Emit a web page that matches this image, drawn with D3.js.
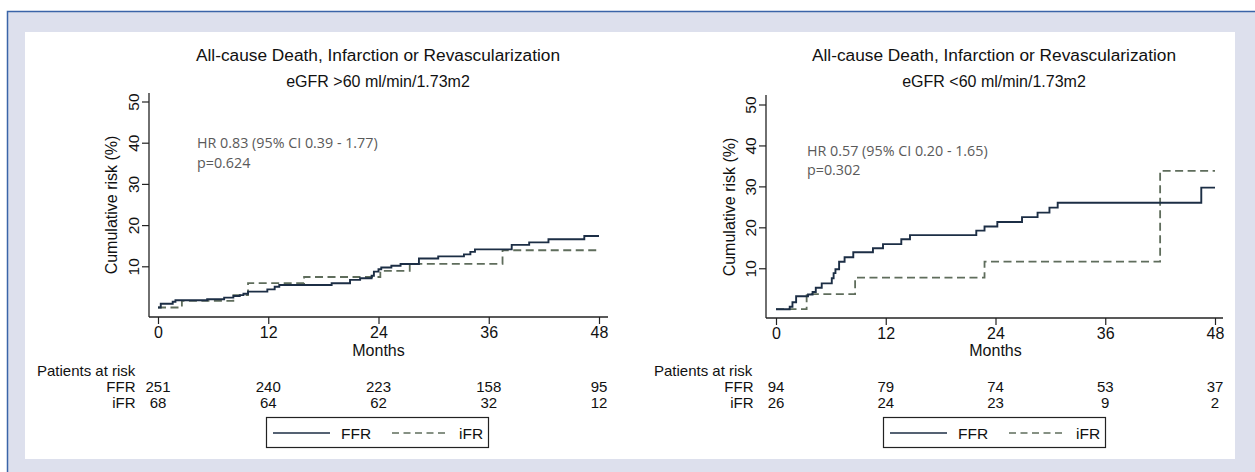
<!DOCTYPE html>
<html><head><meta charset="utf-8">
<script src="https://cdn.jsdelivr.net/npm/d3@7"></script>
<style>
html,body{margin:0;padding:0;background:#fff;}
svg{display:block;}
</style></head>
<body>
<svg id="c" width="1255" height="472"></svg>
<script>
// ---------- data ----------
const monthTicks = [0, 12, 24, 36, 48];
const riskTicks = [10, 20, 30, 40, 50];
const seriesNames = ["FFR", "iFR"];

const titles = ["All-cause Death, Infarction or Revascularization", "All-cause Death, Infarction or Revascularization"];
const subtitles = ["eGFR >60 ml/min/1.73m2", "eGFR <60 ml/min/1.73m2"];
const hrTexts = ["HR 0.83 (95% CI 0.39 - 1.77)", "HR 0.57 (95% CI 0.20 - 1.65)"];
const pTexts = ["p=0.624", "p=0.302"];

// left panel: eGFR > 60
const leftFFR = [[0,0],[0.3,0.9],[1.6,1.4],[1.9,1.75],[5.35,2.0],[7.2,2.4],[8.2,2.8],[8.9,3.0],[9.3,3.35],[9.8,3.85],[11.9,4.4],[12.7,5.05],[13.2,5.45],[18.9,5.9],[20.9,6.7],[22.0,7.1],[23.25,7.7],[23.5,8.7],[24.0,9.3],[24.3,9.7],[25.4,10.15],[26.4,10.55],[28.4,11.9],[30.5,12.4],[33.3,12.9],[34.0,13.5],[34.5,14.1],[38.5,15.2],[40.4,15.8],[42.5,16.55],[46.4,17.35],[48,17.35]];
const leftIFR = [[0,0],[2.6,1.6],[8.2,3.0],[9.8,5.9],[15.9,7.4],[24.2,8.9],[27.4,10.6],[37.5,13.9],[48,13.9]];
const leftRiskFFR = [251, 240, 223, 158, 95];
const leftRiskIFR = [68, 64, 62, 32, 12];

// right panel: eGFR < 60
const rightFFR = [[0,0],[1.5,0.6],[1.8,1.7],[2.2,3.15],[3.5,3.6],[4.0,4.2],[4.35,5.25],[5.0,6.3],[6.1,7.55],[6.3,8.8],[6.5,9.75],[6.9,11.6],[7.5,12.7],[8.45,13.9],[10.6,14.9],[11.7,15.9],[13.7,17.1],[14.65,18.1],[21.9,19.2],[22.8,20.2],[24.2,21.3],[26.9,22.5],[28.6,23.6],[29.9,24.8],[30.8,26.0],[46.5,29.7],[48,29.7]];
const rightIFR = [[0,0],[3.35,3.7],[8.65,7.7],[22.8,11.6],[42.0,33.8],[48,33.8]];
const rightRiskFFR = [94, 79, 74, 53, 37];
const rightRiskIFR = [26, 24, 23, 9, 2];

// ---------- layout ----------
const svg = d3.select("#c");
const FONT = "'Liberation Sans', Arial, Helvetica, sans-serif";
const colFFR = "#1c2e45";
const colIFR = "#5f6d5c";

svg.append("rect").attr("x", 7.5).attr("y", 11.5).attr("width", 1300).attr("height", 500)
  .attr("fill", "#dde0ed").attr("stroke", "#3a64a8").attr("stroke-width", 1.5);
svg.append("rect").attr("x", 25).attr("y", 32).attr("width", 1210).attr("height", 427).attr("fill", "#fff");

const panels = [
  { axisX: 149, axisRight: 608, axisTop: 93, axisBottom: 317, x0: 158, x48: 599, y0: 307.5, y50: 101.5,
    titleX: 378, hrX: 197, hrY: 143, pY: 163, ylabX: 111, ylabY: 205,
    rowLabX: 135.5, riskX: 37, legX: 266, ffr: leftFFR, ifr: leftIFR, rFFR: leftRiskFFR, rIFR: leftRiskIFR, idx: 0 },
  { axisX: 766, axisRight: 1223, axisTop: 95, axisBottom: 318, x0: 776, x48: 1215, y0: 309.2, y50: 104.5,
    titleX: 994, hrX: 807, hrY: 151, pY: 170, ylabX: 729, ylabY: 207,
    rowLabX: 753.5, riskX: 654, legX: 883, ffr: rightFFR, ifr: rightIFR, rFFR: rightRiskFFR, rIFR: rightRiskIFR, idx: 1 }
];

panels.forEach(p => {
  const g = svg.append("g");
  const x = d3.scaleLinear().domain([0, 48]).range([p.x0, p.x48]);
  const y = d3.scaleLinear().domain([0, 50]).range([p.y0, p.y50]);

  // titles
  g.append("text").attr("x", p.titleX).attr("y", 61).attr("text-anchor", "middle")
    .attr("font-family", FONT).attr("font-size", 17.3).attr("fill", "#111").text(titles[p.idx]);
  g.append("text").attr("x", p.titleX).attr("y", 87).attr("text-anchor", "middle")
    .attr("font-family", FONT).attr("font-size", 16).attr("fill", "#111").text(subtitles[p.idx]);

  // y axis
  const yAxis = d3.axisLeft(y).tickValues(riskTicks).tickSize(7).tickPadding(4).tickFormat(d3.format("d"));
  const ya = g.append("g").attr("transform", `translate(${p.axisX},0)`).call(yAxis);
  ya.select(".domain").remove();
  ya.selectAll(".tick line").attr("stroke", "#222").attr("stroke-width", 1.2);
  ya.selectAll(".tick text").attr("font-family", FONT).attr("font-size", 15.5).attr("fill", "#111")
    .attr("x", null).attr("dy", null)
    .attr("text-anchor", "middle")
    .attr("transform", "translate(-10,0) rotate(-90)");
  g.append("line").attr("x1", p.axisX).attr("x2", p.axisX).attr("y1", p.axisTop).attr("y2", p.axisBottom)
    .attr("stroke", "#222").attr("stroke-width", 1.3);

  // x axis
  const xAxis = d3.axisBottom(x).tickValues(monthTicks).tickSize(7).tickPadding(3).tickFormat(d3.format("d"));
  const xa = g.append("g").attr("transform", `translate(0,${p.axisBottom})`).call(xAxis);
  xa.select(".domain").remove();
  xa.selectAll(".tick line").attr("stroke", "#222").attr("stroke-width", 1.2);
  xa.selectAll(".tick text").attr("font-family", FONT).attr("font-size", 16).attr("fill", "#111");
  g.append("line").attr("x1", p.axisX).attr("x2", p.axisRight).attr("y1", p.axisBottom).attr("y2", p.axisBottom)
    .attr("stroke", "#222").attr("stroke-width", 1.3);

  // axis titles
  g.append("text").attr("transform", `translate(${p.ylabX + 5.5},${p.ylabY}) rotate(-90)`).attr("text-anchor", "middle")
    .attr("font-family", FONT).attr("font-size", 16).attr("fill", "#111").text("Cumulative risk (%)");
  g.append("text").attr("x", x(24)).attr("y", 356).attr("text-anchor", "middle")
    .attr("font-family", FONT).attr("font-size", 16).attr("fill", "#111").text("Months");

  // HR annotation
  g.append("text").attr("x", p.hrX).attr("y", p.hrY + 5).attr("font-family", "'Open Sans', 'Noto Sans', sans-serif")
    .attr("font-size", 14.3).attr("fill", "#5a5a5a").text(hrTexts[p.idx]);
  g.append("text").attr("x", p.hrX).attr("y", p.pY + 5).attr("font-family", "'Open Sans', 'Noto Sans', sans-serif")
    .attr("font-size", 14.3).attr("fill", "#5a5a5a").text(pTexts[p.idx]);

  // curves
  const line = d3.line().x(d => x(d[0])).y(d => y(d[1])).curve(d3.curveStepAfter);
  g.append("path").attr("d", line(p.ifr)).attr("fill", "none").attr("stroke", colIFR)
    .attr("stroke-width", 1.8).attr("stroke-dasharray", "8,4.5");
  g.append("path").attr("d", line(p.ffr)).attr("fill", "none").attr("stroke", colFFR)
    .attr("stroke-width", 1.9);

  // risk table
  g.append("text").attr("x", p.riskX).attr("y", 375.5).attr("font-family", FONT).attr("font-size", 15)
    .attr("fill", "#111").text("Patients at risk");
  const rows = [[seriesNames[0], p.rFFR, 391.5], [seriesNames[1], p.rIFR, 407.5]];
  rows.forEach(r => {
    g.append("text").attr("x", p.rowLabX).attr("y", r[2]).attr("text-anchor", "end")
      .attr("font-family", FONT).attr("font-size", 15).attr("fill", "#111").text(r[0]);
    g.selectAll(null).data(r[1]).enter().append("text")
      .attr("x", (d, i) => x(monthTicks[i])).attr("y", r[2]).attr("text-anchor", "middle")
      .attr("font-family", FONT).attr("font-size", 15).attr("fill", "#111").text(d => d);
  });

  // legend
  const lg = g.append("g").attr("transform", `translate(${p.legX},417)`);
  lg.append("rect").attr("x", 0.5).attr("y", 0.5).attr("width", 222).attr("height", 30)
    .attr("fill", "#fff").attr("stroke", "#222").attr("stroke-width", 1.2);
  lg.append("line").attr("x1", 7).attr("x2", 64).attr("y1", 16).attr("y2", 16)
    .attr("stroke", colFFR).attr("stroke-width", 1.6);
  lg.append("text").attr("x", 75).attr("y", 21.5).attr("font-family", FONT).attr("font-size", 15.5)
    .attr("fill", "#111").text(seriesNames[0]);
  lg.append("line").attr("x1", 126).attr("x2", 183).attr("y1", 16).attr("y2", 16)
    .attr("stroke", colIFR).attr("stroke-width", 1.6).attr("stroke-dasharray", "7,4.5");
  lg.append("text").attr("x", 193).attr("y", 21.5).attr("font-family", FONT).attr("font-size", 15.5)
    .attr("fill", "#111").text(seriesNames[1]);
});
</script>
</body></html>
